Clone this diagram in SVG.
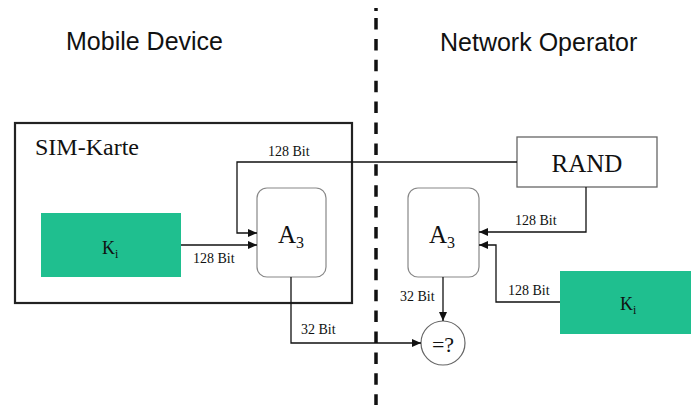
<svg xmlns="http://www.w3.org/2000/svg" width="691" height="405" viewBox="0 0 691 405">
<defs>
<style>
.hdr{font-family:"Liberation Sans",Arial,sans-serif;font-size:25px;fill:#111}
.ser{font-family:"Liberation Serif","Times New Roman",serif;fill:#111}
.lbl{font-family:"Liberation Serif","Times New Roman",serif;font-size:14px;fill:#111}
.conn{fill:none;stroke:#111;stroke-width:1.3}
.alg{fill:#fff;stroke:#888;stroke-width:1.2}
.key{fill:#1fbf8f;stroke:none}
.box{fill:#fff;stroke:#666;stroke-width:1.3}
</style>
<marker id="ah" markerWidth="9" markerHeight="8" refX="9" refY="4" orient="auto" markerUnits="userSpaceOnUse">
<path d="M0,0 L9,4 L0,8 Z" fill="#111"/>
</marker>
</defs>
<rect width="691" height="405" fill="#fff"/>

<g id="headers">
<text class="hdr" x="66" y="50">Mobile Device</text>
<text class="hdr" x="440" y="51">Network Operator</text>
</g>

<g id="sim-card">
<rect x="15" y="123" width="337" height="180" fill="none" stroke="#222" stroke-width="2.2"/>
<text class="ser" x="35" y="155" font-size="24">SIM-Karte</text>
</g>

<g id="ki-left">
<rect class="key" x="41" y="213" width="140" height="64"/>
<text class="ser" x="102" y="254" font-size="18">K<tspan font-size="12" dy="4">i</tspan></text>
</g>

<g id="a3-left">
<rect class="alg" x="257" y="188" width="69" height="89" rx="10"/>
<text class="ser" x="278" y="243" font-size="25">A<tspan font-size="16" dy="5">3</tspan></text>
</g>

<g id="rand">
<rect class="box" x="517" y="137" width="140" height="50"/>
<text class="ser" x="587" y="172" font-size="25" text-anchor="middle">RAND</text>
</g>

<g id="a3-right">
<rect class="alg" x="408" y="188" width="71" height="89" rx="10"/>
<text class="ser" x="429" y="243" font-size="25">A<tspan font-size="16" dy="5">3</tspan></text>
</g>

<g id="ki-right">
<rect class="key" x="560" y="271" width="131" height="63"/>
<text class="ser" x="620" y="310" font-size="18">K<tspan font-size="12" dy="4">i</tspan></text>
</g>

<g id="compare">
<circle cx="443" cy="343" r="22" fill="#fff" stroke="#666" stroke-width="1.2"/>
<text class="ser" x="443" y="352" font-size="22" text-anchor="middle">=?</text>
</g>

<g id="divider">
<line x1="376" y1="8" x2="376" y2="11" stroke="#111" stroke-width="3.5"/>
<line x1="376" y1="18" x2="376" y2="405" stroke="#111" stroke-width="3.5" stroke-dasharray="11.5 9.4"/>
</g>

<g id="connectors">
<path class="conn" d="M181,245 H257" marker-end="url(#ah)"/>
<path class="conn" d="M517,162 H237 V233 H257" marker-end="url(#ah)"/>
<path class="conn" d="M586,187 V232 H479" marker-end="url(#ah)"/>
<path class="conn" d="M560,302 H496 V245 H479" marker-end="url(#ah)"/>
<path class="conn" d="M443,277 V321" marker-end="url(#ah)"/>
<path class="conn" d="M291,277 V343 H421" marker-end="url(#ah)"/>
<text class="lbl" x="193" y="263">128 Bit</text>
<text class="lbl" x="268" y="156">128 Bit</text>
<text class="lbl" x="515" y="225">128 Bit</text>
<text class="lbl" x="508" y="295">128 Bit</text>
<text class="lbl" x="400" y="301">32 Bit</text>
<text class="lbl" x="301" y="334">32 Bit</text>
</g>
</svg>
